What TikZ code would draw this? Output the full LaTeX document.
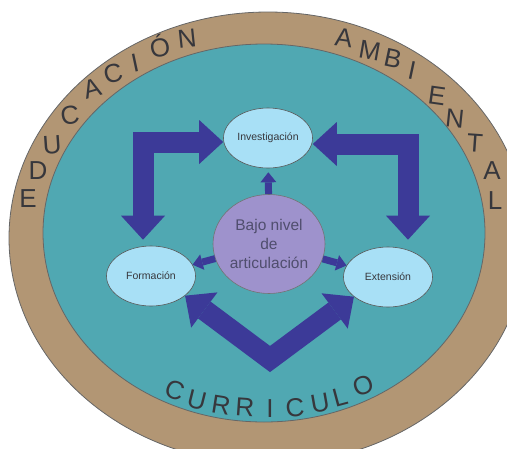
\documentclass[tikz,border=0pt]{standalone}
\usepackage{fontspec}
\setmainfont{Liberation Sans}
\usepackage{tikz}
\usetikzlibrary{shapes,arrows.meta,positioning,calc}

\definecolor{ringbrown}{RGB}{178,150,116}
\definecolor{fieldteal}{RGB}{80,168,178}
\definecolor{bubbleblue}{RGB}{168,224,246}
\definecolor{corepurple}{RGB}{158,146,204}
\definecolor{arrowblue}{RGB}{60,58,152}
\definecolor{textgray}{RGB}{55,55,60}
\definecolor{coretext}{RGB}{80,78,110}

\begin{document}
\begin{tikzpicture}[
    x=1pt, y=-1pt,
    ring/.style={draw=black!60, line width=0.8pt, fill=ringbrown},
    field/.style={draw=black!60, line width=0.8pt, fill=fieldteal},
    bubble/.style={ellipse, draw=black!65, line width=0.6pt, fill=bubbleblue, minimum width=89pt, minimum height=60pt, inner sep=0pt, font=\fontsize{10.5}{12}\selectfont, text=textgray},
    core/.style={ellipse, draw=black!55, line width=0.6pt, fill=corepurple, minimum width=112pt, minimum height=99pt, inner sep=0pt, align=center, font=\fontsize{15.5}{19}\selectfont, text=coretext},
    bigarrow/.style={draw=arrowblue, line width=21pt, {Triangle[width=44pt,length=24pt,line width=0pt]}-{Triangle[width=44pt,length=24pt,line width=0pt]}},
    smallarrow/.style={draw=arrowblue, line width=7pt, -{Triangle[width=16pt,length=10pt,line width=0pt]}},
    letter/.style={inner sep=0pt, text height=18.6pt, text depth=0pt, font=\fontsize{26}{26}\selectfont, text=textgray}
]
    \useasboundingbox (0,0) rectangle (507,448);

    % Rings
    \begin{scope}
        \clip (0,0) rectangle (507,448);
        \draw[ring] (268,238) ellipse [x radius=259pt, y radius=226pt];
    \end{scope}
    \draw[field] (264,233) ellipse [x radius=221pt, y radius=189pt];

    % Ring letters
    \foreach \ch/\px/\py/\rot [count=\i] in {E/28/198/0, D/38/170/0, U/52/145/4, C/70/115/8, A/92/88/16, C/113/73/14, I/135/63/12, Ó/160/48/10, N/187/38/6}
        \node[letter, rotate=\rot] (edu-\i) at (\px,\py) {\ch};
    \foreach \ch/\px/\py/\rot [count=\i] in {A/344/37/-8, M/370/50/-10, B/393/58/-12, I/412/70/-12, E/437/95/-8, N/455/118/-6, T/475/143/-4, A/492/170/0, L/495/200/0}
        \node[letter, rotate=\rot] (amb-\i) at (\px,\py) {\ch};
    \foreach \ch/\px/\py/\rot [count=\i] in {C/175/390/-20, U/197/400/-14, R/221/405/-9, R/245/407/-4, I/270/408/0, C/295/407/5, U/320/403/10, L/340/397/15, O/363/385/20}
        \node[letter, rotate=\rot] (cur-\i) at (\px,\py) {\ch};

    % Nodes
    \node[bubble] (inv) at (268,138) {Investigación};
    \node[bubble] (form) at (151,276) {Formación};
    \node[bubble] (ext) at (388,277) {Extensión};
    \node[core] (bajo) at (269,244) {Bajo nivel\\de\\articulación};

    % Big arrows
    \draw[bigarrow] ([xshift=-8pt,yshift=6pt]form.north) |- ([yshift=-4pt]inv.west);
    \draw[bigarrow] ([yshift=-6pt]inv.east) -| ([xshift=20pt,yshift=7pt]ext.north);
    \coordinate (vbot) at (270,359);
    \draw[bigarrow] (form.-30) -- (vbot) -- (ext.-150);

    % Small arrows
    \draw[smallarrow, shorten >=4pt] (bajo) -- (inv);
    \draw[smallarrow] (bajo) -- (form);
    \draw[smallarrow] (bajo) -- (ext);
\end{tikzpicture}
\end{document}
